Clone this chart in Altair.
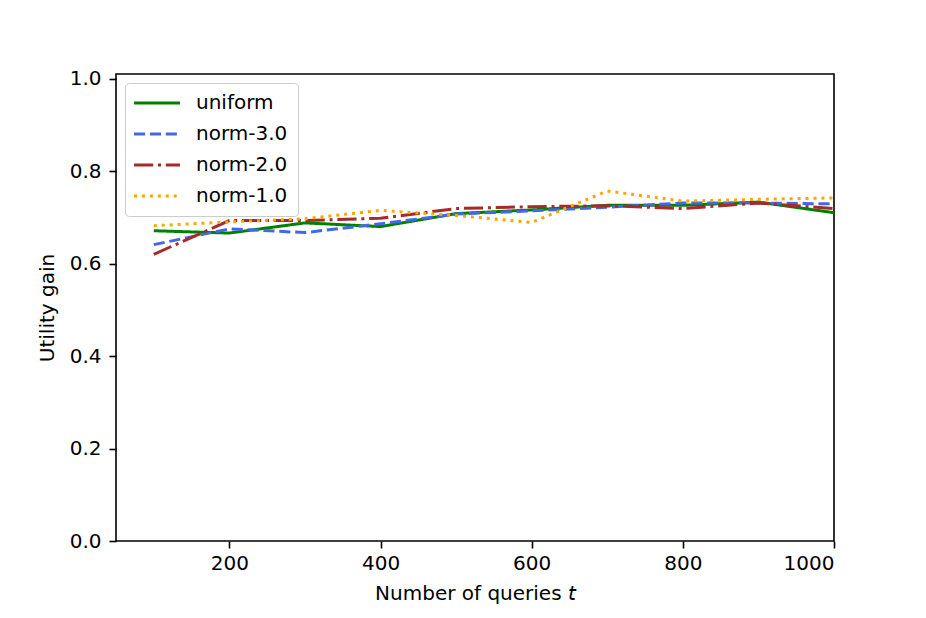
import altair as alt
import pandas as pd

queries = [100, 200, 300, 400, 500, 600, 700, 800, 900, 1000]
uniform = [0.671, 0.666, 0.688, 0.680, 0.708, 0.716, 0.726, 0.726, 0.733, 0.710]
norm3 = [0.641, 0.675, 0.667, 0.686, 0.707, 0.714, 0.722, 0.731, 0.731, 0.729]
norm2 = [0.620, 0.693, 0.693, 0.698, 0.719, 0.723, 0.725, 0.719, 0.731, 0.719]
norm1 = [0.682, 0.690, 0.697, 0.715, 0.704, 0.689, 0.757, 0.735, 0.739, 0.742]

series_names = ["uniform", "norm-3.0", "norm-2.0", "norm-1.0"]
series_colors = ["green", "royalblue", "brown", "orange"]
series_dashes = [[1, 0], [11.1, 4.8], [19.2, 4.8, 3, 4.8], [3, 4.95]]

x_ticks = [200, 400, 600, 800, 1000]
y_ticks = [0.0, 0.2, 0.4, 0.6, 0.8, 1.0]

rows = []
for name, vals in zip(series_names, [uniform, norm3, norm2, norm1]):
    for q, v in zip(queries, vals):
        rows.append({"t": q, "gain": v, "series": name})
df = pd.DataFrame(rows)

FONT = "DejaVu Sans"

base = alt.Chart(df).mark_line(strokeWidth=3, clip=True).encode(
    x=alt.X("t:Q",
            scale=alt.Scale(domain=[50, 1000], nice=False, zero=False),
            axis=alt.Axis(values=x_ticks, title="Number of queries 𝘵", format="d")),
    y=alt.Y("gain:Q",
            scale=alt.Scale(domain=[0, 1.01], nice=False, zero=False),
            axis=alt.Axis(values=y_ticks, format=".1f", title="Utility gain")),
    color=alt.Color("series:N",
                    scale=alt.Scale(domain=series_names, range=series_colors),
                    legend=alt.Legend(title=None)),
    strokeDash=alt.StrokeDash("series:N",
                              scale=alt.Scale(domain=series_names, range=series_dashes),
                              legend=alt.Legend(title=None)),
)

layers = [base.transform_filter(alt.datum.series == n) for n in series_names]

chart = alt.layer(*layers).properties(
    width=718,
    height=467,
    padding={"left": 108, "top": 66, "right": 80, "bottom": 70},
    autosize=alt.AutoSizeParams(type="none"),
).configure_view(
    stroke="black", strokeWidth=1.6
).configure_axis(
    grid=False,
    domain=False,
    ticks=True,
    tickSize=7,
    tickWidth=1.6,
    tickColor="black",
    labelFont=FONT,
    labelFontSize=20,
    labelColor="black",
    titleFont=FONT,
    titleFontSize=20,
    titleFontWeight="normal",
    titleColor="black",
).configure_axisX(
    labelPadding=5,
    titlePadding=10,
).configure_axisY(
    labelPadding=8,
    titlePadding=12,
).configure_legend(
    orient="none",
    legendX=9,
    legendY=9,
    fillColor="rgba(255,255,255,0.8)",
    strokeColor="#cccccc",
    cornerRadius=4,
    padding=10,
    labelFont=FONT,
    labelFontSize=20,
    labelColor="black",
    symbolType="M-2.875,0H2.875",
    symbolSize=256,
    symbolStrokeWidth=3,
    symbolOffset=12,
    labelOffset=29,
    rowPadding=11,
)

chart.save("out.html", embed_options={"renderer": "svg", "actions": False})
